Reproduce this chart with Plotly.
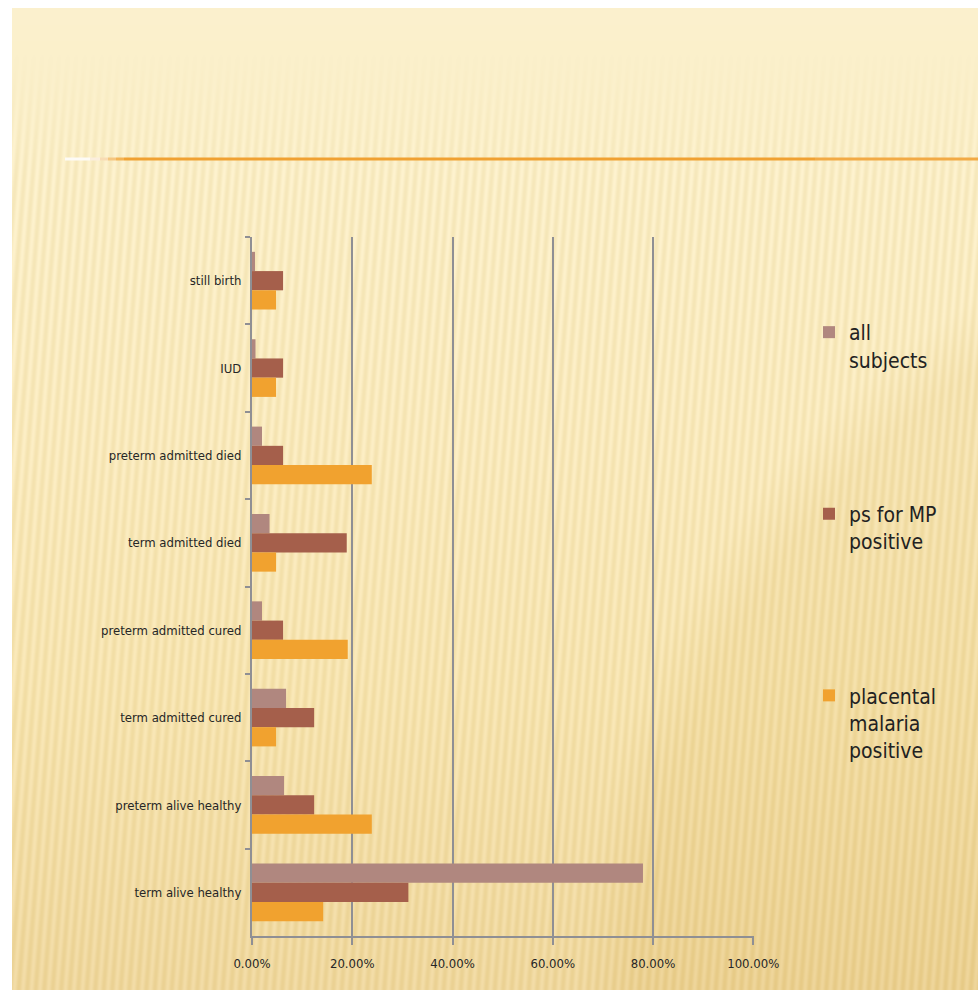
import base64
import struct
import zlib

import numpy as np
import plotly.graph_objects as go

# ---------------- data ----------------
categories = [
    "still birth",
    "IUD",
    "preterm admitted died",
    "term admitted died",
    "preterm admitted cured",
    "term admitted cured",
    "preterm alive healthy",
    "term alive healthy",
]
series_names = ["all<br>subjects", "ps for MP<br>positive", "placental<br>malaria<br>positive"]
all_subjects = [0.006, 0.007, 0.020, 0.035, 0.020, 0.068, 0.064, 0.780]
ps_for_mp_positive = [0.062, 0.062, 0.062, 0.189, 0.062, 0.124, 0.124, 0.312]
placental_malaria_positive = [0.048, 0.048, 0.239, 0.048, 0.191, 0.048, 0.239, 0.142]
x_tick_values = [0.0, 0.2, 0.4, 0.6, 0.8, 1.0]
x_tick_labels = ["0.00%", "20.00%", "40.00%", "60.00%", "80.00%", "100.00%"]

colors = ["#b0877f", "#a55f4b", "#f1a22f"]

# ---------------- layout geometry (page body margin removed below) ----------------
W, H = 978, 990
ML, MT = 252, 237
MR = W - 754
MB = H - 936
PW = W - ML - MR
PH = H - MT - MB


def px_x(px):
    """page x pixel -> paper x"""
    return (px - ML) / PW


def px_y(py):
    """page y pixel -> paper y"""
    return (H - MB - py) / PH


# ---------------- background picture ----------------
def png_data_uri(arr):
    h, w, _ = arr.shape
    raw = b"".join(b"\x00" + arr[i].tobytes() for i in range(h))

    def chunk(t, d):
        return struct.pack(">I", len(d)) + t + d + struct.pack(">I", zlib.crc32(t + d) & 0xFFFFFFFF)

    png = (b"\x89PNG\r\n\x1a\n"
           + chunk(b"IHDR", struct.pack(">IIBBBBB", w, h, 8, 2, 0, 0, 0))
           + chunk(b"IDAT", zlib.compress(raw, 9))
           + chunk(b"IEND", b""))
    return "data:image/png;base64," + base64.b64encode(png).decode()


BG_X0, BG_Y0 = 12, 8
BW, BH = W - BG_X0, H - BG_Y0
rows = 491
ys = BG_Y0 + (np.arange(rows) + 0.5) * BH / rows
xs = BG_X0 + np.arange(BW)
stop_y = [8, 60, 200, 450, 700, 990]
stop_c = [(252, 241, 206), (251, 240, 203), (250, 237, 196), (249, 233, 187), (246, 227, 174), (239, 215, 157)]
base = np.stack([np.interp(ys, stop_y, [c[k] for c in stop_c]) for k in range(3)], axis=-1)
X, Y = np.meshgrid(xs, ys)
phase = 2 * np.pi * (X + (Y - 500) * 0.08) / 8.5
s = np.sin(phase)
amp = np.clip((ys - 55) / 120, 0, 1) * 5.0
img = base[:, None, :] + amp[:, None, None] * s[:, :, None] * np.array([0.8, 1.1, 2.0])
dist = np.sqrt((X - 1400) ** 2 + (Y - 1000) ** 2)
dark = np.clip((820 - dist) / 60, 0, 1) * 7
img -= dark[:, :, None] * np.array([0.6, 1.0, 1.8])
img = np.clip(img, 0, 255).astype(np.uint8)
bg_uri = png_data_uri(img)

# ---------------- figure ----------------
fig = go.Figure()
for name, vals, col in zip(series_names, [all_subjects, ps_for_mp_positive, placental_malaria_positive], colors):
    fig.add_trace(go.Bar(
        y=categories, x=vals, name=name, orientation="h",
        marker=dict(color=col, line=dict(width=0)),
        legendgroup=name,
    ))

grid_col = "#8f8f94"
FONT = "DejaVu Sans Condensed, Liberation Sans Narrow, Arial Narrow, sans-serif"
label_font = dict(family=FONT, size=13, color="#262626")

shapes = []
fade_steps = [(65, 90, "#fdfbf6"), (90, 100, "#fbeedd"), (100, 108, "#f8dcb4"), (108, 116, "#f5c680"),
              (116, 124, "#f3b355")]
ly = px_y(159)
for x0, x1, c in fade_steps:
    shapes.append(dict(type="line", xref="paper", yref="paper", x0=px_x(x0), x1=px_x(x1),
                       y0=ly, y1=ly, line=dict(color=c, width=3), layer="below"))
shapes.append(dict(type="line", xref="paper", yref="paper", x0=px_x(124), x1=px_x(815),
                   y0=ly, y1=ly, line=dict(color="#f0a132", width=3), layer="below"))
shapes.append(dict(type="line", xref="paper", yref="paper", x0=px_x(815), x1=px_x(980),
                   y0=ly, y1=ly, line=dict(color="#f2aa45", width=3), layer="below"))

fig.update_layout(
    width=W, height=H, autosize=False,
    margin=dict(l=ML, r=MR, t=MT, b=MB, pad=0),
    paper_bgcolor="white", plot_bgcolor="rgba(0,0,0,0)",
    barmode="group", bargap=0.34, bargroupgap=0,
    showlegend=True,
    legend=dict(
        xref="container", yref="container", x=809 / W, y=1 - 312 / H,
        xanchor="left", yanchor="top", valign="top",
        font=dict(family=FONT, size=21, color="#222222"),
        tracegroupgap=124, traceorder="grouped", bgcolor="rgba(0,0,0,0)",
        itemwidth=30,
    ),
    images=[dict(source=bg_uri, xref="paper", yref="paper",
                 x=px_x(BG_X0), y=px_y(BG_Y0), sizex=BW / PW, sizey=BH / PH,
                 xanchor="left", yanchor="top", sizing="stretch", layer="below")],
    shapes=shapes,
    xaxis=dict(
        range=[0, 1.0015], tickvals=x_tick_values, ticktext=x_tick_labels,
        showgrid=True, gridcolor=grid_col, gridwidth=2, zeroline=False,
        showline=True, linecolor=grid_col, linewidth=2,
        ticks="outside", ticklen=7, tickwidth=2, tickcolor=grid_col,
        tickfont=label_font, ticklabelstandoff=7, fixedrange=True,
    ),
    yaxis=dict(
        categoryorder="array", categoryarray=categories, autorange="reversed",
        showgrid=False, zeroline=False, showline=True, linecolor=grid_col, linewidth=2,
        ticks="outside", ticklen=5, tickwidth=2, tickcolor=grid_col, tickson="boundaries",
        tickfont=label_font, ticklabelstandoff=6, fixedrange=True,
    ),
)

fig.write_html(
    "out.html",
    config={"displayModeBar": False},
    post_script="document.body.style.margin='0';document.body.style.overflow='hidden';",
)
